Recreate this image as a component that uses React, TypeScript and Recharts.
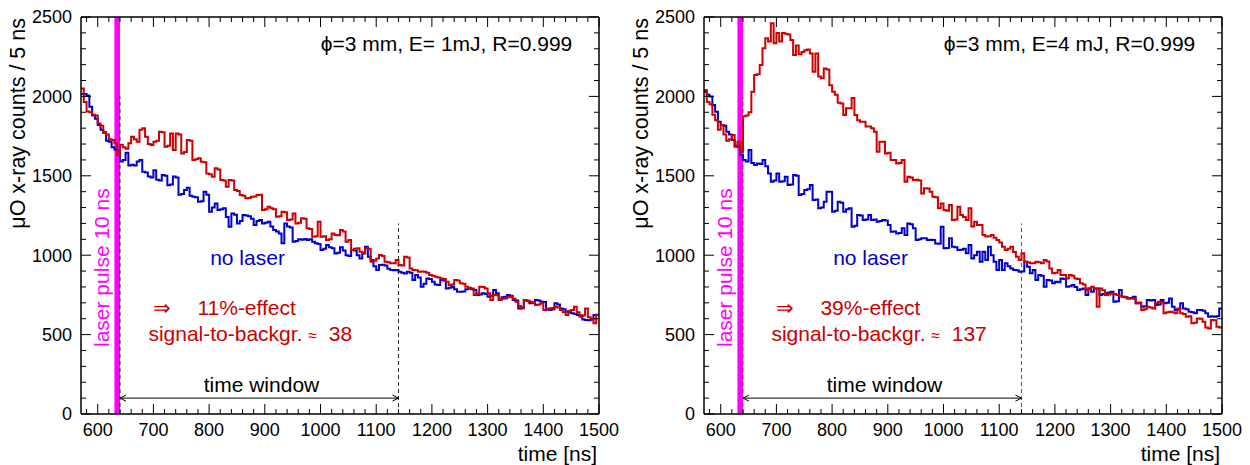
import React from 'react';
import {
  LineChart,
  Line,
  XAxis,
  YAxis,
  ReferenceArea,
  ReferenceLine,
  ReferenceDot,
} from 'recharts';

// histogram binning: 5 ns bins starting at 570 ns
const T0 = 570;
const BIN = 5;
const T_END = 1500;

const X_MAJOR = [600, 700, 800, 900, 1000, 1100, 1200, 1300, 1400, 1500];
const Y_MAJOR = [0, 500, 1000, 1500, 2000, 2500];

// counts per 5 ns, E = 1 mJ
const LEFT_BLUE = [
  2015, 2015, 2005, 1935, 1880, 1860, 1820, 1790, 1775, 1720,
  1715, 1680, 1665, 1655, 1590, 1600, 1645, 1565, 1570, 1565,
  1590, 1600, 1525, 1520, 1495, 1490, 1535, 1475, 1470, 1505,
  1500, 1440, 1445, 1495, 1490, 1380, 1385, 1410, 1425, 1375,
  1368, 1365, 1337, 1340, 1400, 1380, 1274, 1300, 1326, 1284,
  1290, 1295, 1240, 1179, 1263, 1255, 1200, 1215, 1253, 1250,
  1245, 1230, 1190, 1215, 1221, 1200, 1205, 1210, 1180, 1158,
  1150, 1137, 1075, 1200, 1180, 1175, 1085, 1090, 1100, 1098,
  1102, 1095, 1100, 1085, 1075, 1070, 1032, 1040, 1064, 1050,
  1043, 1011, 1015, 1050, 1030, 1000, 995, 1033, 1030, 1000,
  980, 1010, 1054, 990, 970, 930, 907, 938, 940, 935,
  915, 907, 905, 907, 895, 890, 885, 896, 890, 844,
  875, 860, 802, 820, 854, 850, 833, 815, 812, 844,
  840, 791, 795, 802, 785, 770, 770, 772, 785, 791,
  785, 781, 750, 752, 760, 755, 739, 745, 781, 760,
  718, 735, 739, 750, 745, 718, 715, 665, 670, 718,
  712, 697, 700, 718, 715, 707, 705, 660, 655, 660,
  697, 690, 665, 660, 644, 640, 634, 630, 623, 620,
  595, 592, 590, 595, 623, 625,
];

const LEFT_RED = [
  2050, 1965, 1905, 1900, 1885, 1880, 1830, 1815, 1770, 1760,
  1730, 1725, 1705, 1630, 1695, 1680, 1670, 1705, 1746, 1730,
  1714, 1790, 1800, 1746, 1700, 1694, 1714, 1720, 1778, 1775,
  1683, 1690, 1767, 1662, 1767, 1760, 1641, 1650, 1725, 1720,
  1599, 1605, 1610, 1589, 1585, 1515, 1510, 1494, 1547, 1540,
  1473, 1470, 1431, 1473, 1470, 1410, 1405, 1379, 1375, 1358,
  1360, 1368, 1370, 1379, 1380, 1284, 1290, 1305, 1295, 1290,
  1242, 1245, 1274, 1270, 1221, 1225, 1263, 1200, 1205, 1232,
  1230, 1169, 1165, 1116, 1120, 1210, 1116, 1120, 1095, 1100,
  1137, 1127, 1125, 1158, 1150, 1085, 1096, 1033, 1040, 1043,
  1022, 1012, 1043, 1040, 959, 965, 980, 1001, 995, 959,
  955, 949, 950, 970, 938, 935, 990, 985, 917, 907,
  905, 896, 898, 896, 890, 875, 870, 865, 860, 854,
  850, 833, 812, 815, 844, 840, 823, 820, 802, 795,
  791, 750, 755, 802, 800, 791, 760, 718, 750, 748,
  718, 725, 728, 735, 739, 725, 707, 680, 665, 718,
  715, 707, 700, 686, 690, 697, 655, 660, 665, 668,
  676, 670, 655, 640, 623, 650, 655, 676, 640, 613,
  620, 665, 610, 602, 571, 623,
];

// counts per 5 ns, E = 4 mJ
const RIGHT_BLUE = [
  2030, 2010, 2000, 1946, 1904, 1841, 1820, 1815, 1778, 1760,
  1725, 1690, 1683, 1631, 1600, 1590, 1662, 1580, 1568, 1578,
  1575, 1599, 1560, 1515, 1463, 1470, 1515, 1463, 1465, 1494,
  1442, 1445, 1505, 1500, 1379, 1385, 1410, 1415, 1442, 1347,
  1350, 1295, 1300, 1337, 1400, 1400, 1274, 1280, 1337, 1330,
  1274, 1290, 1295, 1179, 1185, 1253, 1250, 1221, 1225, 1253,
  1221, 1225, 1211, 1215, 1221, 1218, 1190, 1148, 1150, 1137,
  1140, 1169, 1127, 1200, 1195, 1169, 1095, 1100, 1106, 1106,
  1095, 1098, 1095, 1074, 1072, 1179, 1043, 1045, 1106, 1054,
  1050, 1032, 1035, 1040, 1012, 1064, 980, 1000, 1022, 959,
  1022, 970, 1054, 1000, 959, 907, 970, 907, 949, 930,
  917, 907, 905, 896, 898, 959, 928, 886, 907, 844,
  875, 870, 802, 844, 840, 823, 833, 830, 854, 850,
  802, 805, 812, 800, 781, 785, 791, 749, 791, 770,
  791, 790, 749, 755, 760, 765, 770, 707, 710, 781,
  739, 735, 728, 730, 739, 697, 700, 676, 678, 718,
  715, 718, 686, 690, 718, 697, 700, 728, 676, 655,
  660, 697, 665, 660, 644, 640, 634, 655, 655, 650,
  634, 613, 615, 613, 615, 665,
];

const RIGHT_RED = [
  2040, 1965, 1950, 1885, 1850, 1790, 1820, 1760, 1720, 1730,
  1757, 1683, 1715, 1652, 1875, 1880, 1900, 2030, 2135, 2140,
  2198, 2303, 2366, 2345, 2460, 2335, 2400, 2345, 2400, 2395,
  2390, 2355, 2260, 2320, 2265, 2280, 2290, 2295, 2270, 2155,
  2270, 2125, 2115, 2175, 2170, 2070, 2030, 2010, 1960, 1955,
  1883, 1925, 1925, 1990, 1883, 1850, 1841, 1841, 1810, 1810,
  1800, 1778, 1652, 1715, 1715, 1641, 1645, 1599, 1600, 1578,
  1580, 1599, 1463, 1494, 1490, 1473, 1475, 1470, 1389, 1421,
  1420, 1400, 1368, 1365, 1295, 1326, 1284, 1280, 1316, 1221,
  1225, 1305, 1253, 1240, 1222, 1295, 1180, 1211, 1190, 1190,
  1127, 1117, 1120, 1127, 1110, 1096, 1080, 1054, 1033, 1040,
  1054, 1020, 991, 970, 1012, 959, 955, 949, 950, 959,
  955, 949, 970, 960, 917, 886, 890, 907, 875, 875,
  854, 875, 870, 854, 850, 823, 815, 781, 790, 802,
  791, 676, 791, 780, 749, 752, 760, 755, 749, 745,
  739, 735, 728, 728, 725, 697, 700, 655, 660, 676,
  670, 665, 697, 707, 705, 634, 640, 644, 640, 634,
  665, 634, 630, 613, 615, 571, 575, 602, 600, 581,
  545, 539, 592, 590, 550, 545,
];

const FONT = '"Liberation Sans", Arial, Helvetica, sans-serif';
const RED = '#cc0000';
const BLUE = '#0000cc';
const MAGENTA = '#ff00ff';

const xTicks: number[] = [];
for (let t = 580; t <= T_END; t += 20) xTicks.push(t);
const yTicks: number[] = [];
for (let v = 0; v <= 2500; v += 100) yTicks.push(v);

function buildRows(blue: number[], red: number[]) {
  const rows = blue.map((b, i) => ({ t: T0 + i * BIN, blue: b, red: red[i] }));
  // close the last bin
  rows.push({ t: T_END, blue: blue[blue.length - 1], red: red[red.length - 1] });
  return rows;
}

const BottomTick = ({ x, y, payload }: any) => {
  const major = X_MAJOR.includes(payload.value);
  return (
    <g>
      <line x1={x} x2={x} y1={y} y2={y - (major ? 10 : 5)} stroke="#000" />
      {major && (
        <text x={x} y={y + 22} textAnchor="middle" fontSize={18} fontFamily={FONT} fill="#000">
          {payload.value}
        </text>
      )}
    </g>
  );
};

const TopTick = ({ x, y, payload }: any) => {
  const major = X_MAJOR.includes(payload.value);
  return <line x1={x} x2={x} y1={y} y2={y + (major ? 10 : 5)} stroke="#000" />;
};

const LeftTick = ({ x, y, payload }: any) => {
  const major = Y_MAJOR.includes(payload.value);
  return (
    <g>
      <line x1={x} x2={x + (major ? 10 : 5)} y1={y} y2={y} stroke="#000" />
      {major && (
        <text x={x - 9} y={y} dy="0.36em" textAnchor="end" fontSize={18} fontFamily={FONT} fill="#000">
          {payload.value}
        </text>
      )}
    </g>
  );
};

const RightTick = ({ x, y, payload }: any) => {
  const major = Y_MAJOR.includes(payload.value);
  return <line x1={x} x2={x - (major ? 10 : 5)} y1={y} y2={y} stroke="#000" />;
};

const XTitle = (p: any) => (
  <text
    x={p.viewBox.x + p.viewBox.width - 2}
    y={p.viewBox.y + 47}
    textAnchor="end"
    fontSize={21}
    fontFamily={FONT}
    fill="#000"
  >
    time [ns]
  </text>
);

const YTitle = (p: any) => {
  const x = p.viewBox.x + 25;
  const y = p.viewBox.y + 1;
  return (
    <text x={x} y={y} transform={`rotate(-90, ${x}, ${y})`} textAnchor="end" fontSize={21.5} fontFamily={FONT} fill="#000">
      μO x-ray counts / 5 ns
    </text>
  );
};

const ArrowShape = (p: any) => {
  const { x1, y1, x2, y2 } = p;
  return (
    <g stroke="#000" strokeWidth={1} fill="none">
      <line x1={x1} y1={y1} x2={x2} y2={y2} />
      <polyline points={`${x1 + 6},${y1 - 3} ${x1},${y1} ${x1 + 6},${y1 + 3}`} />
      <polyline points={`${x2 - 6},${y2 - 3} ${x2},${y2} ${x2 - 6},${y2 + 3}`} />
    </g>
  );
};

// text placed at a data point
function note(content: React.ReactNode, color: string, anchor: string, rotate = false) {
  return (p: any) => (
    <text
      x={p.cx}
      y={p.cy}
      dy={rotate ? 0 : '0.36em'}
      transform={rotate ? `rotate(-90, ${p.cx}, ${p.cy})` : undefined}
      textAnchor={anchor}
      fontSize={21}
      fontFamily={FONT}
      fill={color}
      style={{ whiteSpace: 'pre' }}
    >
      {content}
    </text>
  );
}

interface PanelProps {
  blue: number[];
  red: number[];
  title: string;
  effect: string;
  ratio: string;
  dashColor: string;
}

function Panel({ blue, red, title, effect, ratio, dashColor }: PanelProps) {
  const rows = buildRows(blue, red);
  return (
    <LineChart width={625} height={465} data={rows} margin={{ top: 16, right: 25, bottom: 0, left: 0 }}>
      <XAxis
        dataKey="t"
        type="number"
        domain={[T0, T_END]}
        allowDataOverflow
        ticks={xTicks}
        interval={0}
        tick={BottomTick}
        tickLine={false}
        tickSize={0}
        tickMargin={0}
        height={51}
        axisLine={{ stroke: '#000', strokeWidth: 1.5 }}
        label={{ content: XTitle }}
      />
      <XAxis
        xAxisId="top"
        orientation="top"
        dataKey="t"
        type="number"
        domain={[T0, T_END]}
        allowDataOverflow
        ticks={xTicks}
        interval={0}
        tick={TopTick}
        tickLine={false}
        tickSize={0}
        tickMargin={0}
        height={1}
        axisLine={{ stroke: '#000', strokeWidth: 1.5 }}
      />
      <YAxis
        type="number"
        domain={[0, 2500]}
        allowDataOverflow
        ticks={yTicks}
        interval={0}
        tick={LeftTick}
        tickLine={false}
        tickSize={0}
        tickMargin={0}
        width={81}
        axisLine={{ stroke: '#000', strokeWidth: 1.5 }}
        label={{ content: YTitle }}
      />
      <YAxis
        yAxisId="right"
        orientation="right"
        type="number"
        domain={[0, 2500]}
        allowDataOverflow
        ticks={yTicks}
        interval={0}
        tick={RightTick}
        tickLine={false}
        tickSize={0}
        tickMargin={0}
        width={1}
        axisLine={{ stroke: '#000', strokeWidth: 1.5 }}
      />

      {/* laser pulse */}
      <ReferenceArea x1={630} x2={640} y1={0} y2={2500} fill={MAGENTA} fillOpacity={1} stroke="none" />
      <ReferenceLine segment={[{ x: 640, y: 0 }, { x: 640, y: 2000 }]} stroke={dashColor} strokeDasharray="4 3" />
      <ReferenceLine segment={[{ x: 1140, y: 0 }, { x: 1140, y: 1200 }]} stroke={dashColor} strokeDasharray="4 3" />
      <ReferenceLine segment={[{ x: 640, y: 100 }, { x: 1140, y: 100 }]} shape={ArrowShape} />

      <Line
        type="stepAfter"
        dataKey="blue"
        stroke={BLUE}
        strokeWidth={2}
        strokeLinejoin="miter"
        dot={false}
        activeDot={false}
        isAnimationActive={false}
      />
      <Line
        type="stepAfter"
        dataKey="red"
        stroke={RED}
        strokeWidth={2}
        strokeLinejoin="miter"
        dot={false}
        activeDot={false}
        isAnimationActive={false}
      />

      <ReferenceDot x={1452} y={2336} r={0} shape={note(title, '#000', 'end')} />
      <ReferenceDot x={621} y={422} r={0} shape={note('laser pulse 10 ns', MAGENTA, 'start', true)} />
      <ReferenceDot x={869} y={989} r={0} shape={note('no laser', BLUE, 'middle')} />
      <ReferenceDot x={700} y={674} r={0} shape={note('⇒', RED, 'start')} />
      <ReferenceDot x={779} y={674} r={0} shape={note(effect, RED, 'start')} />
      <ReferenceDot
        x={691}
        y={510}
        r={0}
        shape={note(
          <>
            signal-to-backgr. <tspan fontSize={16}>≈</tspan>  {ratio}
          </>,
          RED,
          'start'
        )}
      />
      <ReferenceDot x={894} y={183} r={0} shape={note('time window', '#000', 'middle')} />
    </LineChart>
  );
}

export default function App() {
  return (
    <div style={{ position: 'absolute', left: 0, top: 0, width: 1250, height: 465, background: '#fff' }}>
      <div style={{ position: 'absolute', left: 0, top: 0 }}>
        <Panel
          blue={LEFT_BLUE}
          red={LEFT_RED}
          title="ϕ=3 mm, E= 1mJ, R=0.999"
          effect="11%-effect"
          ratio="38"
          dashColor="#222"
        />
      </div>
      <div style={{ position: 'absolute', left: 623, top: 0 }}>
        <Panel
          blue={RIGHT_BLUE}
          red={RIGHT_RED}
          title="ϕ=3 mm, E=4 mJ, R=0.999"
          effect="39%-effect"
          ratio="137"
          dashColor="#555"
        />
      </div>
    </div>
  );
}
